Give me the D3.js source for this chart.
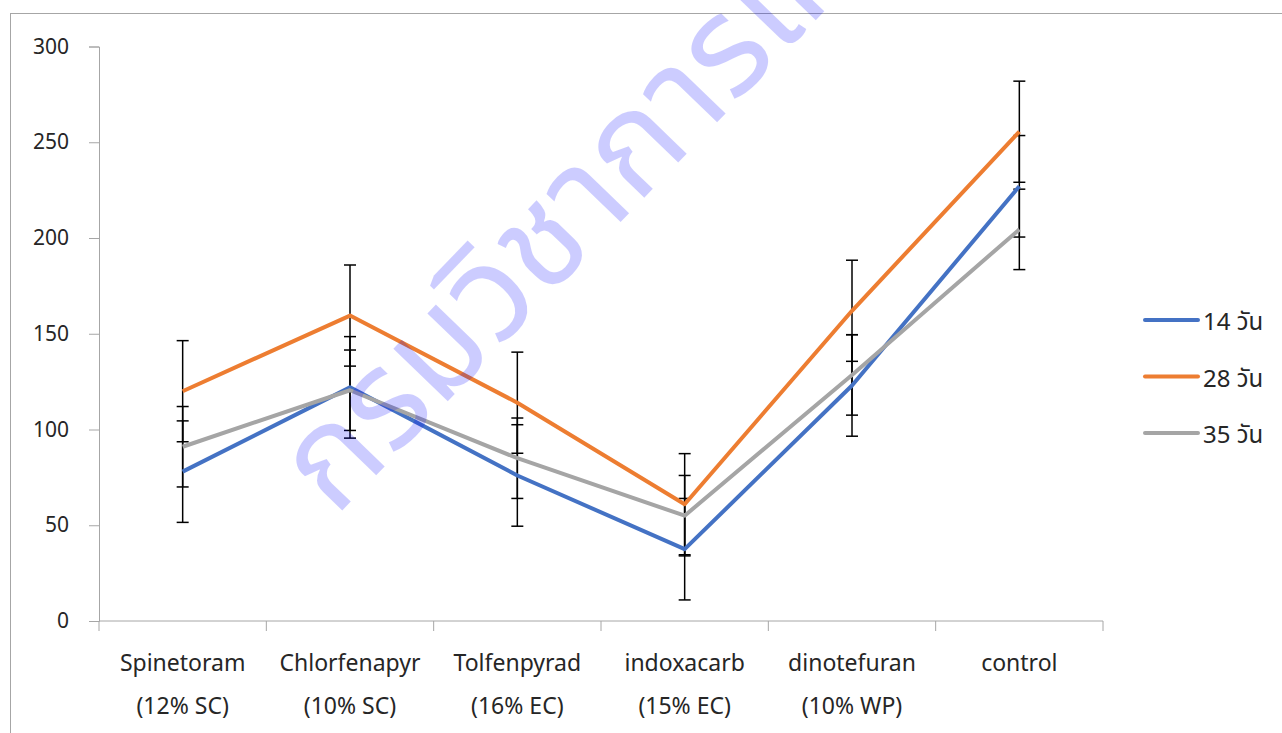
<!DOCTYPE html>
<html>
<head>
<meta charset="utf-8">
<script src="https://cdn.jsdelivr.net/npm/d3@7"></script>
<style>
  html, body { margin: 0; padding: 0; background: #fff; }
  svg { display: block; }
  text { font-family: "Noto Sans", "Noto Sans Thai", "Loma", "Garuda", "DejaVu Sans", sans-serif; }
</style>
</head>
<body>
<svg id="chart" width="1282" height="733"></svg>
<script>
// Treatments (two-line labels) and days-after-spraying series
const categories = ["Spinetoram", "Chlorfenapyr", "Tolfenpyrad", "indoxacarb", "dinotefuran", "control"];
const formulations = ["(12% SC)", "(10% SC)", "(16% EC)", "(15% EC)", "(10% WP)", ""];
const seriesNames = ["14 วัน", "28 วัน", "35 วัน"];
const day14 = [78, 122, 76, 37.5, 123, 227];
const day28 = [120, 159.5, 114, 61, 162, 255.5];
const day35 = [91, 120.5, 85, 55, 128.5, 204.5];
const errors = [26.5, 26.4, 21];          // standard error, one per series
const yTicks = [0, 50, 100, 150, 200, 250, 300];
const watermark = "กรมวิชาการเกษตร";

const colors = ["#4472c4", "#ed7d31", "#a5a5a5"];
const seriesValues = [day14, day28, day35];

const svg = d3.select("#chart");

// outer chart-area frame
svg.append("rect")
  .attr("x", 10.5).attr("y", 13.5)
  .attr("width", 1400).attr("height", 900)
  .attr("fill", "none").attr("stroke", "#a6a6a6").attr("stroke-width", 1);

const plot = { left: 99, right: 1103, top: 46.5, bottom: 621 };

const x = d3.scaleBand().domain(categories).range([plot.left, plot.right]).padding(0);
const y = d3.scaleLinear().domain([0, 300]).range([plot.bottom, plot.top]);
const cx = c => x(c) + x.bandwidth() / 2;

// y axis
const yAxis = svg.append("g")
  .attr("transform", `translate(${plot.left},0)`)
  .call(d3.axisLeft(y).tickValues(yTicks).tickSize(10).tickPadding(20));
yAxis.select(".domain").attr("stroke", "#a6a6a6");
yAxis.selectAll(".tick line").attr("stroke", "#a6a6a6");
yAxis.selectAll(".tick text")
  .attr("font-size", 21).attr("fill", "#262626")
  .style("font-family", '"Noto Sans", sans-serif');

// x axis with ticks at category boundaries
const xAxis = svg.append("g").attr("transform", `translate(0,${plot.bottom})`);
xAxis.append("line")
  .attr("x1", plot.left).attr("x2", plot.right)
  .attr("stroke", "#a6a6a6");
const bounds = categories.map(c => x(c)).concat([plot.right]);
xAxis.selectAll("line.tk").data(bounds).join("line")
  .attr("class", "tk")
  .attr("x1", d => d).attr("x2", d => d)
  .attr("y1", 0).attr("y2", 10)
  .attr("stroke", "#a6a6a6");
const lbl = xAxis.selectAll("text.cat").data(categories).join("text")
  .attr("class", "cat")
  .attr("text-anchor", "middle")
  .attr("font-size", 23).attr("fill", "#262626");
lbl.append("tspan").attr("x", d => cx(d)).attr("y", 50).text(d => d);
lbl.append("tspan").attr("x", d => cx(d)).attr("y", 93).text((d, i) => formulations[i]);

// error bars
seriesValues.forEach((vals, s) => {
  const g = svg.append("g").attr("stroke", "#000").attr("stroke-width", 1.5);
  vals.forEach((v, i) => {
    const xc = cx(categories[i]);
    const hi = y(v + errors[s]), lo = y(v - errors[s]);
    g.append("line").attr("x1", xc).attr("x2", xc).attr("y1", hi).attr("y2", lo);
    g.append("line").attr("x1", xc - 6).attr("x2", xc + 6).attr("y1", hi).attr("y2", hi);
    g.append("line").attr("x1", xc - 6).attr("x2", xc + 6).attr("y1", lo).attr("y2", lo);
  });
});

// series lines
const line = d3.line().x((d, i) => cx(categories[i])).y(d => y(d));
seriesValues.forEach((vals, s) => {
  svg.append("path")
    .datum(vals)
    .attr("d", line)
    .attr("fill", "none")
    .attr("stroke", colors[s])
    .attr("stroke-width", 4)
    .attr("stroke-linejoin", "round");
});

// legend
const legend = svg.append("g");
seriesNames.forEach((name, s) => {
  const ly = 320 + s * 56.5;
  legend.append("line")
    .attr("x1", 1145).attr("x2", 1198).attr("y1", ly).attr("y2", ly)
    .attr("stroke", colors[s]).attr("stroke-width", 4).attr("stroke-linecap", "round");
  legend.append("text")
    .attr("x", 1203).attr("y", ly + 10)
    .attr("font-size", 24).attr("fill", "#262626")
    .text(name);
});

// translucent watermark across the plot
svg.append("text")
  .attr("transform", "translate(335,518) rotate(-46)")
  .attr("font-size", 138)
  .attr("font-weight", "normal")
  .attr("fill", "rgba(0,0,255,0.2)")
  .text(watermark);
</script>
</body>
</html>
